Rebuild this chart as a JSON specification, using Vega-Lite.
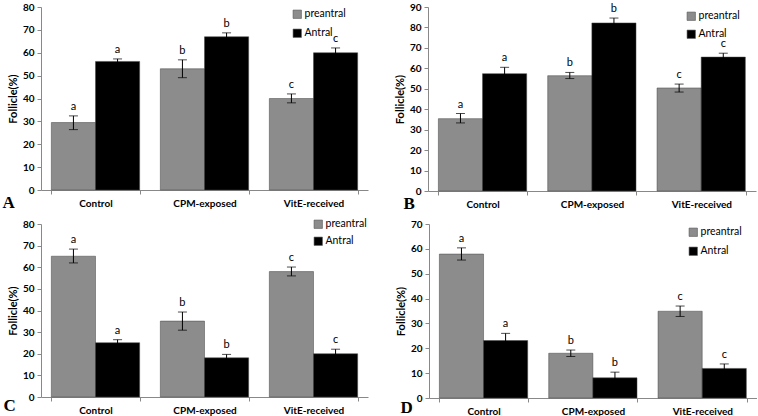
{
  "$schema": "https://vega.github.io/schema/vega-lite/v6.json",
  "background": "white",
  "padding": {"left": 2, "top": 2, "right": 0, "bottom": 0},
  "data": {"values": [
    {"panel": "A", "group": "Control", "type": "preantral", "value": 29.5, "lo": 26.4, "hi": 32.4, "letter": "a"},
    {"panel": "A", "group": "Control", "type": "Antral", "value": 56.2, "lo": 55.1, "hi": 57.3, "letter": "a"},
    {"panel": "A", "group": "CPM-exposed", "type": "preantral", "value": 53.0, "lo": 49.1, "hi": 56.9, "letter": "b"},
    {"panel": "A", "group": "CPM-exposed", "type": "Antral", "value": 67.0, "lo": 65.3, "hi": 68.7, "letter": "b"},
    {"panel": "A", "group": "VitE-received", "type": "preantral", "value": 40.0, "lo": 38.1, "hi": 42.0, "letter": "c"},
    {"panel": "A", "group": "VitE-received", "type": "Antral", "value": 60.0, "lo": 58.0, "hi": 62.1, "letter": "c"},
    {"panel": "B", "group": "Control", "type": "preantral", "value": 35.4, "lo": 33.3, "hi": 37.9, "letter": "a"},
    {"panel": "B", "group": "Control", "type": "Antral", "value": 57.4, "lo": 54.4, "hi": 60.5, "letter": "a"},
    {"panel": "B", "group": "CPM-exposed", "type": "preantral", "value": 56.4, "lo": 55.0, "hi": 58.0, "letter": "b"},
    {"panel": "B", "group": "CPM-exposed", "type": "Antral", "value": 82.2, "lo": 79.8, "hi": 84.6, "letter": "b"},
    {"panel": "B", "group": "VitE-received", "type": "preantral", "value": 50.4, "lo": 48.4, "hi": 52.3, "letter": "c"},
    {"panel": "B", "group": "VitE-received", "type": "Antral", "value": 65.5, "lo": 63.6, "hi": 67.4, "letter": "c"},
    {"panel": "C", "group": "Control", "type": "preantral", "value": 65.1, "lo": 62.0, "hi": 68.4, "letter": "a"},
    {"panel": "C", "group": "Control", "type": "Antral", "value": 25.1, "lo": 23.7, "hi": 26.5, "letter": "a"},
    {"panel": "C", "group": "CPM-exposed", "type": "preantral", "value": 35.1, "lo": 30.9, "hi": 39.3, "letter": "b"},
    {"panel": "C", "group": "CPM-exposed", "type": "Antral", "value": 18.1, "lo": 16.4, "hi": 19.7, "letter": "b"},
    {"panel": "C", "group": "VitE-received", "type": "preantral", "value": 58.0, "lo": 56.0, "hi": 60.1, "letter": "c"},
    {"panel": "C", "group": "VitE-received", "type": "Antral", "value": 20.0, "lo": 18.0, "hi": 22.1, "letter": "c"},
    {"panel": "D", "group": "Control", "type": "preantral", "value": 57.9, "lo": 55.5, "hi": 60.4, "letter": "a"},
    {"panel": "D", "group": "Control", "type": "Antral", "value": 23.1, "lo": 20.2, "hi": 26.0, "letter": "a"},
    {"panel": "D", "group": "CPM-exposed", "type": "preantral", "value": 18.0, "lo": 16.7, "hi": 19.3, "letter": "b"},
    {"panel": "D", "group": "CPM-exposed", "type": "Antral", "value": 8.1, "lo": 5.9, "hi": 10.4, "letter": "b"},
    {"panel": "D", "group": "VitE-received", "type": "preantral", "value": 34.9, "lo": 32.8, "hi": 37.0, "letter": "c"},
    {"panel": "D", "group": "VitE-received", "type": "Antral", "value": 11.9, "lo": 10.2, "hi": 13.7, "letter": "c"}
  ]},
  "resolve": {"scale": {"color": "independent"}, "legend": {"color": "independent"}},
  "spacing": 8,
  "vconcat": [
    {
      "spacing": 26,
      "resolve": {"scale": {"color": "independent"}, "legend": {"color": "independent"}},
      "hconcat": [
        {
          "width": 327, "height": 183,
          "transform": [{"filter": "datum.panel == 'A'"}],
          "encoding": {
            "x": {"field": "group", "type": "nominal", "sort": ["Control", "CPM-exposed", "VitE-received"], "scale": {"paddingInner": 0.19, "paddingOuter": 0.095}, "axis": {"title": "A", "titleX": -39, "titleY": 17}},
            "xOffset": {"field": "type", "type": "nominal", "sort": ["preantral", "Antral"], "scale": {"paddingInner": 0, "paddingOuter": 0}}
          },
          "layer": [
            {"mark": {"type": "bar", "stroke": "#444", "strokeWidth": 0.5},
             "encoding": {
               "y": {"field": "value", "type": "quantitative", "scale": {"domain": [0, 80]}, "axis": {"title": "Follicle(%)", "values": [0, 10, 20, 30, 40, 50, 60, 70, 80]}},
               "color": {"field": "type", "type": "nominal", "sort": ["preantral", "Antral"], "scale": {"domain": ["preantral", "Antral"], "range": ["#8c8c8c", "#000000"]}, "legend": {"title": null, "orient": "none", "legendX": 251, "legendY": 2}}
             }},
            {"mark": {"type": "rule", "color": "#000", "strokeWidth": 1}, "encoding": {"y": {"field": "lo", "type": "quantitative", "axis": {"title": "Follicle(%)", "values": [0, 10, 20, 30, 40, 50, 60, 70, 80]}}, "y2": {"field": "hi"}}},
            {"mark": {"type": "tick", "color": "#000", "size": 9, "thickness": 1}, "encoding": {"y": {"field": "lo", "type": "quantitative", "axis": {"title": "Follicle(%)", "values": [0, 10, 20, 30, 40, 50, 60, 70, 80]}}}},
            {"mark": {"type": "tick", "color": "#000", "size": 9, "thickness": 1}, "encoding": {"y": {"field": "hi", "type": "quantitative", "axis": {"title": "Follicle(%)", "values": [0, 10, 20, 30, 40, 50, 60, 70, 80]}}}},
            {"mark": {"type": "text", "baseline": "alphabetic", "dy": -6, "font": "Lato", "fontSize": 11, "color": "#000"}, "encoding": {"y": {"field": "hi", "type": "quantitative", "axis": {"title": "Follicle(%)", "values": [0, 10, 20, 30, 40, 50, 60, 70, 80]}}, "text": {"field": "letter"}}}
          ]
        },
        {
          "width": 328, "height": 184,
          "transform": [{"filter": "datum.panel == 'B'"}],
          "encoding": {
            "x": {"field": "group", "type": "nominal", "sort": ["Control", "CPM-exposed", "VitE-received"], "scale": {"paddingInner": 0.19, "paddingOuter": 0.095}, "axis": {"title": "B", "titleX": -25, "titleY": 17}},
            "xOffset": {"field": "type", "type": "nominal", "sort": ["preantral", "Antral"], "scale": {"paddingInner": 0, "paddingOuter": 0}}
          },
          "layer": [
            {"mark": {"type": "bar", "stroke": "#444", "strokeWidth": 0.5},
             "encoding": {
               "y": {"field": "value", "type": "quantitative", "scale": {"domain": [0, 90]}, "axis": {"title": "Follicle(%)", "values": [0, 10, 20, 30, 40, 50, 60, 70, 80, 90]}},
               "color": {"field": "type", "type": "nominal", "sort": ["preantral", "Antral"], "scale": {"domain": ["preantral", "Antral"], "range": ["#8c8c8c", "#000000"]}, "legend": {"title": null, "orient": "none", "legendX": 258, "legendY": 4, "rowPadding": 6}}
             }},
            {"mark": {"type": "rule", "color": "#000", "strokeWidth": 1}, "encoding": {"y": {"field": "lo", "type": "quantitative", "axis": {"title": "Follicle(%)", "values": [0, 10, 20, 30, 40, 50, 60, 70, 80, 90]}}, "y2": {"field": "hi"}}},
            {"mark": {"type": "tick", "color": "#000", "size": 9, "thickness": 1}, "encoding": {"y": {"field": "lo", "type": "quantitative", "axis": {"title": "Follicle(%)", "values": [0, 10, 20, 30, 40, 50, 60, 70, 80, 90]}}}},
            {"mark": {"type": "tick", "color": "#000", "size": 9, "thickness": 1}, "encoding": {"y": {"field": "hi", "type": "quantitative", "axis": {"title": "Follicle(%)", "values": [0, 10, 20, 30, 40, 50, 60, 70, 80, 90]}}}},
            {"mark": {"type": "text", "baseline": "alphabetic", "dy": -6, "font": "Lato", "fontSize": 11, "color": "#000"}, "encoding": {"y": {"field": "hi", "type": "quantitative", "axis": {"title": "Follicle(%)", "values": [0, 10, 20, 30, 40, 50, 60, 70, 80, 90]}}, "text": {"field": "letter"}}}
          ]
        }
      ]
    },
    {
      "spacing": 27,
      "resolve": {"scale": {"color": "independent"}, "legend": {"color": "independent"}},
      "hconcat": [
        {
          "width": 327, "height": 173,
          "transform": [{"filter": "datum.panel == 'C'"}],
          "encoding": {
            "x": {"field": "group", "type": "nominal", "sort": ["Control", "CPM-exposed", "VitE-received"], "scale": {"paddingInner": 0.19, "paddingOuter": 0.095}, "axis": {"title": "C", "titleX": -38, "titleY": 13}},
            "xOffset": {"field": "type", "type": "nominal", "sort": ["preantral", "Antral"], "scale": {"paddingInner": 0, "paddingOuter": 0}}
          },
          "layer": [
            {"mark": {"type": "bar", "stroke": "#444", "strokeWidth": 0.5},
             "encoding": {
               "y": {"field": "value", "type": "quantitative", "scale": {"domain": [0, 80]}, "axis": {"title": "Follicle(%)", "values": [0, 10, 20, 30, 40, 50, 60, 70, 80]}},
               "color": {"field": "type", "type": "nominal", "sort": ["preantral", "Antral"], "scale": {"domain": ["preantral", "Antral"], "range": ["#8c8c8c", "#000000"]}, "legend": {"title": null, "orient": "none", "legendX": 272, "legendY": -5, "rowPadding": 5}}
             }},
            {"mark": {"type": "rule", "color": "#000", "strokeWidth": 1}, "encoding": {"y": {"field": "lo", "type": "quantitative", "axis": {"title": "Follicle(%)", "values": [0, 10, 20, 30, 40, 50, 60, 70, 80]}}, "y2": {"field": "hi"}}},
            {"mark": {"type": "tick", "color": "#000", "size": 9, "thickness": 1}, "encoding": {"y": {"field": "lo", "type": "quantitative", "axis": {"title": "Follicle(%)", "values": [0, 10, 20, 30, 40, 50, 60, 70, 80]}}}},
            {"mark": {"type": "tick", "color": "#000", "size": 9, "thickness": 1}, "encoding": {"y": {"field": "hi", "type": "quantitative", "axis": {"title": "Follicle(%)", "values": [0, 10, 20, 30, 40, 50, 60, 70, 80]}}}},
            {"mark": {"type": "text", "baseline": "alphabetic", "dy": -6, "font": "Lato", "fontSize": 11, "color": "#000"}, "encoding": {"y": {"field": "hi", "type": "quantitative", "axis": {"title": "Follicle(%)", "values": [0, 10, 20, 30, 40, 50, 60, 70, 80]}}, "text": {"field": "letter"}}}
          ]
        },
        {
          "width": 328, "height": 174,
          "transform": [{"filter": "datum.panel == 'D'"}],
          "encoding": {
            "x": {"field": "group", "type": "nominal", "sort": ["Control", "CPM-exposed", "VitE-received"], "scale": {"paddingInner": 0.19, "paddingOuter": 0.095}, "axis": {"title": "D", "titleX": -29, "titleY": 14}},
            "xOffset": {"field": "type", "type": "nominal", "sort": ["preantral", "Antral"], "scale": {"paddingInner": 0, "paddingOuter": 0}}
          },
          "layer": [
            {"mark": {"type": "bar", "stroke": "#444", "strokeWidth": 0.5},
             "encoding": {
               "y": {"field": "value", "type": "quantitative", "scale": {"domain": [0, 70]}, "axis": {"title": "Follicle(%)", "values": [0, 10, 20, 30, 40, 50, 60, 70]}},
               "color": {"field": "type", "type": "nominal", "sort": ["preantral", "Antral"], "scale": {"domain": ["preantral", "Antral"], "range": ["#8c8c8c", "#000000"]}, "legend": {"title": null, "orient": "none", "legendX": 259, "legendY": 3}}
             }},
            {"mark": {"type": "rule", "color": "#000", "strokeWidth": 1}, "encoding": {"y": {"field": "lo", "type": "quantitative", "axis": {"title": "Follicle(%)", "values": [0, 10, 20, 30, 40, 50, 60, 70]}}, "y2": {"field": "hi"}}},
            {"mark": {"type": "tick", "color": "#000", "size": 9, "thickness": 1}, "encoding": {"y": {"field": "lo", "type": "quantitative", "axis": {"title": "Follicle(%)", "values": [0, 10, 20, 30, 40, 50, 60, 70]}}}},
            {"mark": {"type": "tick", "color": "#000", "size": 9, "thickness": 1}, "encoding": {"y": {"field": "hi", "type": "quantitative", "axis": {"title": "Follicle(%)", "values": [0, 10, 20, 30, 40, 50, 60, 70]}}}},
            {"mark": {"type": "text", "baseline": "alphabetic", "dy": -6, "font": "Lato", "fontSize": 11, "color": "#000"}, "encoding": {"y": {"field": "hi", "type": "quantitative", "axis": {"title": "Follicle(%)", "values": [0, 10, 20, 30, 40, 50, 60, 70]}}, "text": {"field": "letter"}}}
          ]
        }
      ]
    }
  ],
  "config": {
    "view": {"stroke": null},
    "axisY": {"domainColor": "#888", "tickColor": "#888", "tickSize": 4, "labelFont": "Lato", "labelFontWeight": "bold", "labelFontSize": 10, "labelColor": "#000", "labelPadding": 3, "labelOverlap": false, "titleFont": "Lato", "titleFontWeight": "bold", "titleFontSize": 11, "titleColor": "#000", "titlePadding": 4, "grid": false},
    "axisX": {"domainColor": "#888", "tickColor": "#888", "tickSize": 4, "labelFont": "Lato", "labelFontWeight": "bold", "labelFontSize": 10, "labelColor": "#000", "labelPadding": 4, "labelAngle": 0, "tickBand": "extent", "grid": false, "titleFont": "Liberation Serif", "titleFontSize": 17, "titleFontWeight": "bold", "titleColor": "#000", "titleAlign": "left", "titleBaseline": "alphabetic", "titleAngle": 0},
    "legend": {"labelFont": "Lato", "labelFontSize": 10.5, "labelColor": "#000", "symbolType": "square", "symbolSize": 70, "symbolStrokeColor": "#555", "symbolStrokeWidth": 0.6, "rowPadding": 7, "padding": 0, "labelOffset": 2}
  }
}
